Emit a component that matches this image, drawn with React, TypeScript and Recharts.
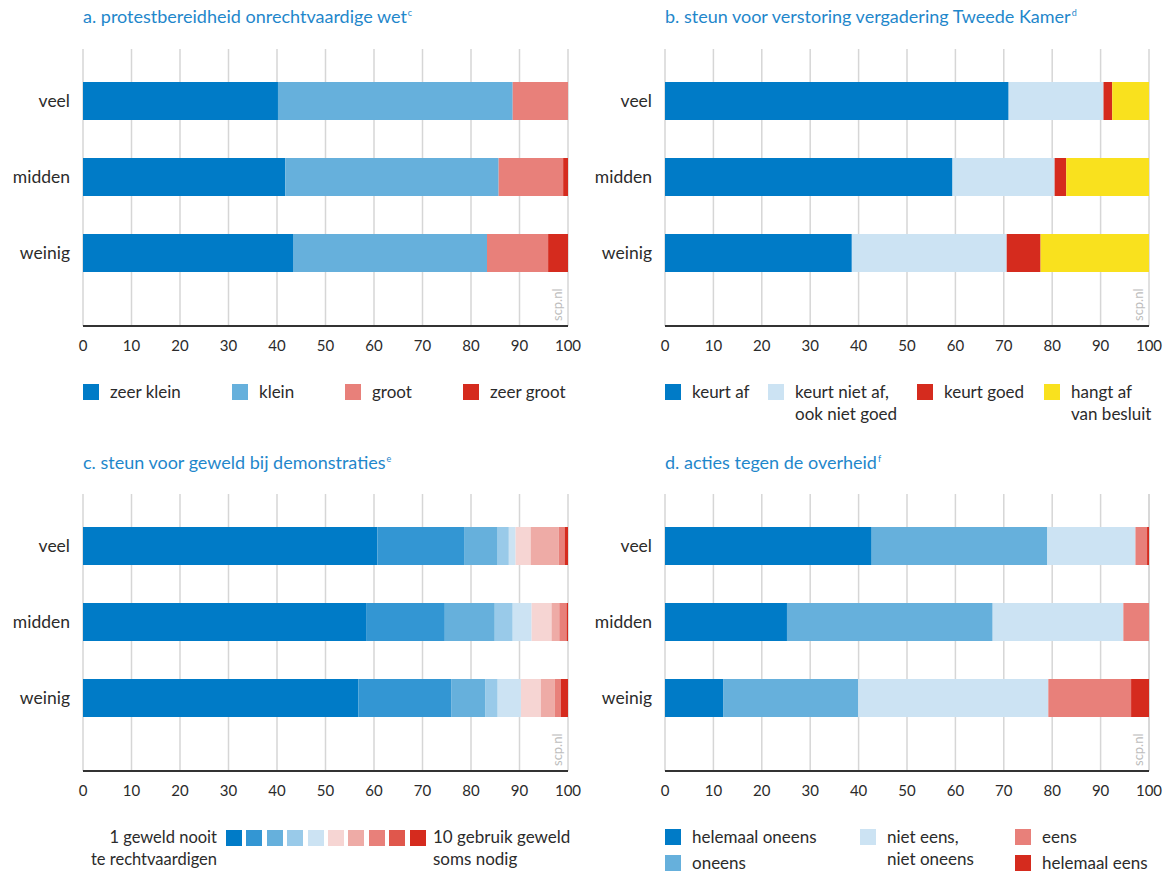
import React from 'react';
import { BarChart, Bar, XAxis, YAxis, CartesianGrid } from 'recharts';

const FONT = 'Lato, "Open Sans", sans-serif';
const TEXT = '#2b2b2b';
const TITLE = '#1f87cb';
const GRID = '#d6d6d6';

const categories = ['veel', 'midden', 'weinig'];
const xTicks = [0, 10, 20, 30, 40, 50, 60, 70, 80, 90, 100];

// a. protestbereidheid onrechtvaardige wet
const aZeerKlein = [40.2, 41.7, 43.3];
const aKlein = [48.4, 44.0, 40.0];
const aGroot = [11.4, 13.3, 12.6];
const aZeerGroot = [0, 1.0, 4.1];

// b. steun voor verstoring vergadering Tweede Kamer
const bKeurtAf = [71.0, 59.4, 38.6];
const bNietAf = [19.6, 21.1, 32.0];
const bKeurtGoed = [1.8, 2.4, 7.0];
const bHangtAf = [7.6, 17.1, 22.4];

// c. steun voor geweld bij demonstraties (schaal 1-10)
const c1 = [60.7, 58.5, 56.8];
const c2 = [18.0, 16.1, 19.2];
const c3 = [6.8, 10.3, 7.0];
const c4 = [2.3, 3.7, 2.5];
const c5 = [1.4, 3.9, 4.8];
const c6 = [3.1, 4.1, 4.1];
const c7 = [5.8, 1.6, 2.9];
const c8 = [1.2, 1.5, 1.2];
const c9 = [0, 0, 0];
const c10 = [0.7, 0.3, 1.5];

// d. acties tegen de overheid
const dHelemaalOneens = [42.7, 25.2, 12.0];
const dOneens = [36.3, 42.5, 27.9];
const dNiet = [18.2, 27.0, 39.3];
const dEens = [2.4, 5.3, 17.1];
const dHelemaalEens = [0.4, 0, 3.7];

const BLUE1 = '#007bc7';
const BLUE2 = '#3396d3';
const BLUE3 = '#66b0dc';
const BLUE4 = '#99cae9';
const BLUE5 = '#cce3f3';
const RED6 = '#f6d5d3';
const RED7 = '#eeaba6';
const RED8 = '#e8807a';
const RED9 = '#e0574c';
const RED10 = '#d52b1e';
const YELLOW = '#f9e11e';

type Series = { key: string; values: number[]; color: string };

function buildRows(series: Series[]) {
  return categories.map((c, i) => {
    const row: Record<string, any> = { cat: c };
    series.forEach((s) => {
      row[s.key] = s.values[i];
    });
    return row;
  });
}

function Panel({ left, top, plotLeft, marginRight, series }: { left: number; top: number; plotLeft: number; marginRight: number; series: Series[] }) {
  const data = buildRows(series);
  return (
    <div style={{ position: 'absolute', left, top }}>
      <BarChart
        width={584}
        height={330}
        layout="vertical"
        data={data}
        margin={{ top: 9, right: marginRight, bottom: 0, left: 0 }}
        barCategoryGap={0}
      >
        <CartesianGrid horizontal={false} stroke={GRID} strokeWidth={1.5} />
        <XAxis
          xAxisId="top"
          orientation="top"
          type="number"
          domain={[0, 100]}
          height={0}
          tick={false}
          tickLine={false}
          axisLine={{ stroke: GRID, strokeWidth: 1.5 }}
        />
        <XAxis
          type="number"
          domain={[0, 100]}
          ticks={xTicks}
          interval={0}
          height={44}
          tickLine={false}
          tickSize={0}
          tickMargin={14}
          axisLine={{ stroke: '#333', strokeWidth: 2 }}
          tick={{ fill: TEXT, fontSize: 15, fontFamily: FONT }}
        />
        <YAxis
          type="category"
          dataKey="cat"
          width={plotLeft}
          axisLine={false}
          tickLine={false}
          tickSize={0}
          tickMargin={13}
          padding={{ top: 14, bottom: 35 }}
          tick={{ fill: TEXT, fontSize: 17.5, fontFamily: FONT }}
        />
        {series.map((s) => (
          <Bar key={s.key} dataKey={s.key} stackId="s" fill={s.color} barSize={38} isAnimationActive={false} />
        ))}
      </BarChart>
    </div>
  );
}

function Title({ x, y, text, sup }: { x: number; y: number; text: string; sup: string }) {
  return (
    <div style={{ position: 'absolute', left: x, top: y, fontFamily: FONT, fontSize: 18, lineHeight: '20px', color: TITLE, whiteSpace: 'nowrap' }}>
      {text}
      <span style={{ fontSize: 9, position: 'relative', top: -7, marginLeft: 1 }}>{sup}</span>
    </div>
  );
}

function LegendItem({ x, y, color, lines }: { x: number; y: number; color: string; lines: string[] }) {
  return (
    <div style={{ position: 'absolute', left: x, top: y }}>
      <div style={{ position: 'absolute', left: 0, top: 0, width: 16, height: 16, background: color }} />
      <div style={{ position: 'absolute', left: 27, top: -3, fontFamily: FONT, fontSize: 17, lineHeight: '22px', color: TEXT, whiteSpace: 'nowrap' }}>
        {lines.map((l, i) => (
          <div key={i}>{l}</div>
        ))}
      </div>
    </div>
  );
}

const cColors = [BLUE1, BLUE2, BLUE3, BLUE4, BLUE5, RED6, RED7, RED8, RED9, RED10];

export default function App() {
  const seriesA: Series[] = [
    { key: 'zeer klein', values: aZeerKlein, color: BLUE1 },
    { key: 'klein', values: aKlein, color: BLUE3 },
    { key: 'groot', values: aGroot, color: RED8 },
    { key: 'zeer groot', values: aZeerGroot, color: RED10 },
  ];
  const seriesB: Series[] = [
    { key: 'keurt af', values: bKeurtAf, color: BLUE1 },
    { key: 'keurt niet af', values: bNietAf, color: BLUE5 },
    { key: 'keurt goed', values: bKeurtGoed, color: RED10 },
    { key: 'hangt af', values: bHangtAf, color: YELLOW },
  ];
  const cVals = [c1, c2, c3, c4, c5, c6, c7, c8, c9, c10];
  const seriesC: Series[] = cVals.map((v, i) => ({ key: 'c' + (i + 1), values: v, color: cColors[i] }));
  const seriesD: Series[] = [
    { key: 'helemaal oneens', values: dHelemaalOneens, color: BLUE1 },
    { key: 'oneens', values: dOneens, color: BLUE3 },
    { key: 'niet eens, niet oneens', values: dNiet, color: BLUE5 },
    { key: 'eens', values: dEens, color: RED8 },
    { key: 'helemaal eens', values: dHelemaalEens, color: RED10 },
  ];

  return (
    <div style={{ position: 'absolute', left: 0, top: 0, width: 1168, height: 872, overflow: 'hidden', background: '#fff' }}>
      <Title x={83} y={6} text="a. protestbereidheid onrechtvaardige wet" sup="c" />
      <Title x={665} y={6} text="b. steun voor verstoring vergadering Tweede Kamer" sup="d" />
      <Title x={83} y={452} text="c. steun voor geweld bij demonstraties" sup="e" />
      <Title x={665} y={452} text="d. acties tegen de overheid" sup="f" />

      <Panel left={0} top={40} plotLeft={83} marginRight={16} series={seriesA} />
      <Panel left={584} top={40} plotLeft={81} marginRight={19} series={seriesB} />
      <Panel left={0} top={485} plotLeft={83} marginRight={16} series={seriesC} />
      <Panel left={584} top={485} plotLeft={81} marginRight={19} series={seriesD} />

      <svg width={1168} height={872} style={{ position: 'absolute', left: 0, top: 0, pointerEvents: 'none' }}>
        {[
          [562, 321],
          [1143, 321],
          [562, 766],
          [1143, 766],
        ].map(([x, y], i) => (
          <text key={i} x={x} y={y} transform={`rotate(-90 ${x} ${y})`} fontFamily={FONT} fontSize={13} fill="#bdbdbd">
            scp.nl
          </text>
        ))}
      </svg>

      {/* legend a */}
      <LegendItem x={83} y={384} color={BLUE1} lines={['zeer klein']} />
      <LegendItem x={232} y={384} color={BLUE3} lines={['klein']} />
      <LegendItem x={345} y={384} color={RED8} lines={['groot']} />
      <LegendItem x={463} y={384} color={RED10} lines={['zeer groot']} />

      {/* legend b */}
      <LegendItem x={665} y={384} color={BLUE1} lines={['keurt af']} />
      <LegendItem x={768} y={384} color={BLUE5} lines={['keurt niet af,', 'ook niet goed']} />
      <LegendItem x={917} y={384} color={RED10} lines={['keurt goed']} />
      <LegendItem x={1044} y={384} color={YELLOW} lines={['hangt af', 'van besluit']} />

      {/* legend c */}
      <div style={{ position: 'absolute', left: 40, top: 826, width: 177, textAlign: 'right', fontFamily: FONT, fontSize: 16.5, lineHeight: '22px', color: TEXT }}>
        <div>1 geweld nooit</div>
        <div>te rechtvaardigen</div>
      </div>
      {cColors.map((col, i) => (
        <div key={i} style={{ position: 'absolute', left: 226 + i * 20.4, top: 830, width: 16, height: 16, background: col }} />
      ))}
      <div style={{ position: 'absolute', left: 433, top: 826, fontFamily: FONT, fontSize: 17, lineHeight: '22px', color: TEXT, whiteSpace: 'nowrap' }}>
        <div>10 gebruik geweld</div>
        <div>soms nodig</div>
      </div>

      {/* legend d */}
      <LegendItem x={665} y={829} color={BLUE1} lines={['helemaal oneens']} />
      <LegendItem x={665} y={855} color={BLUE3} lines={['oneens']} />
      <LegendItem x={860} y={829} color={BLUE5} lines={['niet eens,', 'niet oneens']} />
      <LegendItem x={1015} y={829} color={RED8} lines={['eens']} />
      <LegendItem x={1015} y={855} color={RED10} lines={['helemaal eens']} />
    </div>
  );
}
